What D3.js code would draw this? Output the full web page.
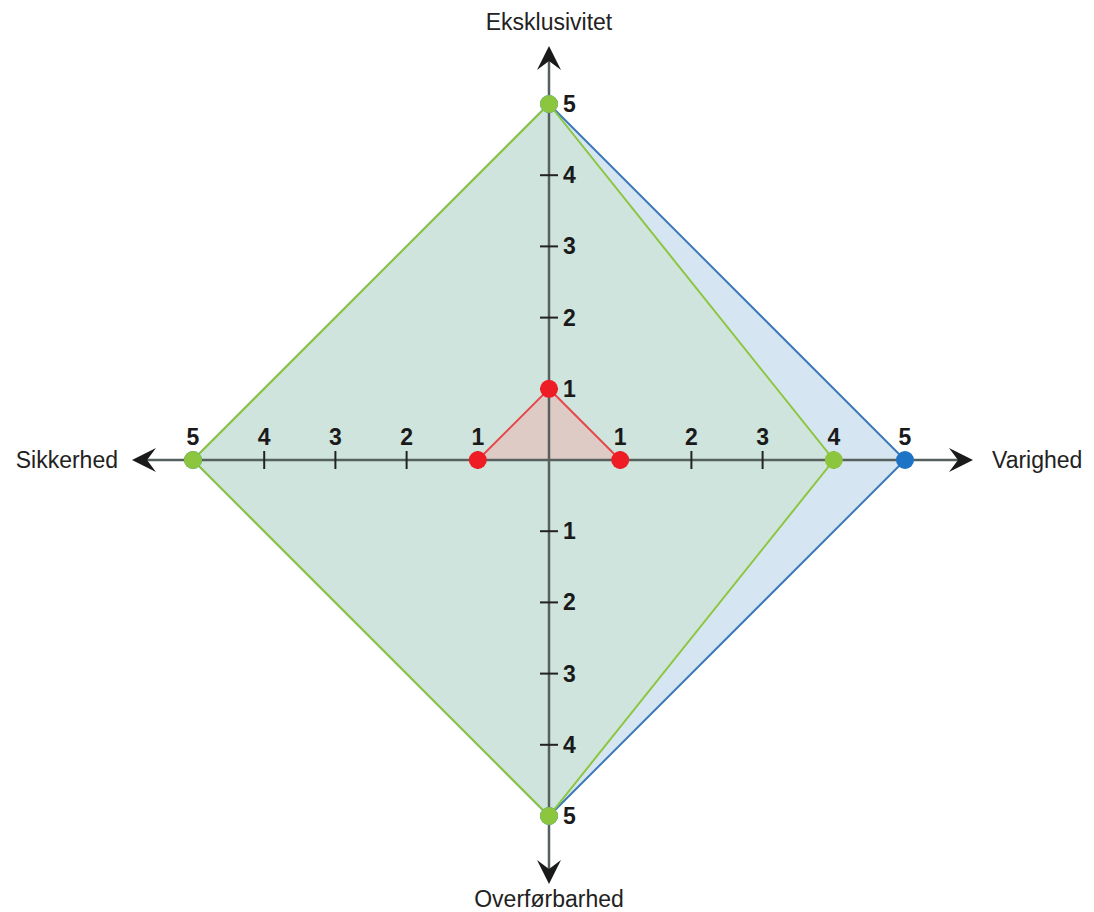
<!DOCTYPE html>
<html>
<head>
<meta charset="utf-8">
<script src="https://cdn.jsdelivr.net/npm/d3@7"></script>
<style>
  body { margin: 0; background: #fff; }
  svg { display: block; font-family: "Liberation Sans", Arial, sans-serif; }
</style>
</head>
<body>
<div id="chart"></div>
<script>
// Radar-style diamond: 4 axes, 3 profiles
const axes = ["Eksklusivitet", "Varighed", "Overførbarhed", "Sikkerhed"];
const angles = [-90, 0, 90, 180]; // degrees, clockwise from right
const blueValues = [5, 5, 5, 5];
const greenValues = [5, 4, 5, 5];
const redValues = [1, 1, 0, 1];
const tickValues = [1, 2, 3, 4, 5];

const W = 1094, H = 912;
const cx = 549, cy = 460;

const svg = d3.select("#chart").append("svg")
  .attr("width", W).attr("height", H);

const r = d3.scaleLinear().domain([0, 5]).range([0, 356]);

const pt = (i, v) => {
  const a = angles[i] * Math.PI / 180;
  return [cx + r(v) * Math.cos(a), cy + r(v) * Math.sin(a)];
};

const line = d3.line();

// series polygons
const series = [
  { vals: blueValues, fill: "#d6e5f2", stroke: "#3d7bb8", dot: "#1d74c4" },
  { vals: greenValues, fill: "#cfe4dc", stroke: "#8cc63f", dot: "#8cc63f" },
];

series.forEach(s => {
  const pts = s.vals.map((v, i) => pt(i, v));
  svg.append("path")
    .attr("d", line(pts) + "Z")
    .attr("fill", s.fill)
    .attr("stroke", s.stroke).attr("stroke-width", 2);
});

// red triangle (skip zero vertex)
const redPts = redValues.map((v, i) => ({ v, p: pt(i, v) })).filter(d => d.v > 0);
svg.append("path")
  .attr("d", line(redPts.map(d => d.p)) + "Z")
  .attr("fill", "#f4a4a4").attr("fill-opacity", 0.4)
  .attr("stroke", "#e5474a").attr("stroke-width", 2);

// axes lines
const axisG = svg.append("g").attr("stroke", "#56615f").attr("stroke-width", 2.5);
axisG.append("line").attr("x1", 140).attr("x2", 965).attr("y1", cy).attr("y2", cy);
axisG.append("line").attr("x1", cx).attr("x2", cx).attr("y1", 56).attr("y2", 874);

// arrow heads
const arrow = "M0,0 L-24,-12 L-15,0 L-24,12 Z";
[[973, cy, 0], [132, cy, 180], [cx, 46, -90], [cx, 884, 90]].forEach(([x, y, a]) => {
  svg.append("path").attr("d", arrow)
    .attr("transform", `translate(${x},${y}) rotate(${a})`)
    .attr("fill", "#1a1a1a");
});

// ticks
const tickG = svg.append("g").attr("stroke", "#222").attr("stroke-width", 2);
tickValues.slice(0, 4).forEach(t => {
  [cx + r(t), cx - r(t)].forEach(x => {
    tickG.append("line").attr("x1", x).attr("x2", x).attr("y1", cy - 9).attr("y2", cy + 9);
  });
  [cy + r(t), cy - r(t)].forEach(y => {
    tickG.append("line").attr("x1", cx - 9).attr("x2", cx + 9).attr("y1", y).attr("y2", y);
  });
});

// tick labels
const lab = svg.append("g").attr("font-weight", "bold").attr("font-size", 23).attr("fill", "#1a1a1a");
tickValues.forEach(t => {
  lab.append("text").attr("x", cx + r(t)).attr("y", cy - 15).attr("text-anchor", "middle").text(t);
  lab.append("text").attr("x", cx - r(t)).attr("y", cy - 15).attr("text-anchor", "middle").text(t);
  lab.append("text").attr("x", cx + 14).attr("y", cy - r(t) + 8).text(t);
  lab.append("text").attr("x", cx + 14).attr("y", cy + r(t) + 8).text(t);
});

// dots
const dotR = 9;
series.forEach(s => {
  s.vals.forEach((v, i) => {
    const [x, y] = pt(i, v);
    svg.append("circle").attr("cx", x).attr("cy", y).attr("r", dotR).attr("fill", s.dot);
  });
});
redPts.forEach(d => {
  svg.append("circle").attr("cx", d.p[0]).attr("cy", d.p[1]).attr("r", dotR).attr("fill", "#ee1c24");
});

// axis names
const nameG = svg.append("g").attr("font-size", 23).attr("fill", "#222");
nameG.append("text").attr("x", cx).attr("y", 30).attr("text-anchor", "middle").text(axes[0]);
nameG.append("text").attr("x", 992).attr("y", 468).text(axes[1]);
nameG.append("text").attr("x", cx).attr("y", 907).attr("text-anchor", "middle").text(axes[2]);
nameG.append("text").attr("x", 118).attr("y", 468).attr("text-anchor", "end").text(axes[3]);
</script>
</body>
</html>
